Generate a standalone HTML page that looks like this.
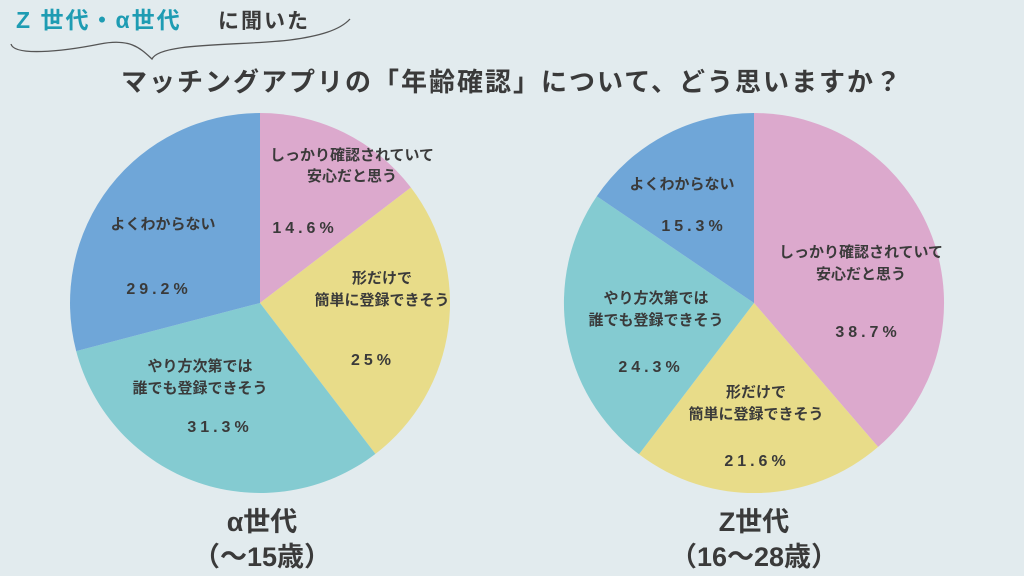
<!DOCTYPE html>
<html><head><meta charset="utf-8"><style>
html,body{margin:0;padding:0;background:#e2ebee;}
svg{display:block}
text{font-family:"Liberation Sans","Noto Sans CJK JP",sans-serif;font-weight:bold;fill:#3a3a3a}
</style></head><body>
<svg width="1024" height="576" viewBox="0 0 1024 576">
<rect width="1024" height="576" fill="#e2ebee"/>
<text x="16" y="28" font-size="23" letter-spacing="2" style="fill:#1e9cb3">Z 世代・α世代</text>
<text x="218" y="28" font-size="21" letter-spacing="2">に聞いた</text>
<path d="M11 44 C14 56 60 52 100 44 C130 38 140 48 152 59 C160 42 240 46 290 40 C320 36 340 30 350 19" fill="none" stroke="#555" stroke-width="1.3"/>
<text x="512" y="91" font-size="26" text-anchor="middle" letter-spacing="2">マッチングアプリの「年齢確認」について、どう思いますか？</text>
<path d="M260 303 L260 113 A190 190 0 0 1 410.9 187.5 Z" fill="#dca9cd"/>
<path d="M260 303 L410.9 187.5 A190 190 0 0 1 375.4 453.9 Z" fill="#e8dc89"/>
<path d="M260 303 L375.4 453.9 A190 190 0 0 1 76.2 351.1 Z" fill="#84cbd1"/>
<path d="M260 303 L76.2 351.1 A190 190 0 0 1 260 113 Z" fill="#6fa6d8"/>
<path d="M754 303 L754 113 A190 190 0 0 1 878.1 446.9 Z" fill="#dca9cd"/>
<path d="M754 303 L878.1 446.9 A190 190 0 0 1 639 454.3 Z" fill="#e8dc89"/>
<path d="M754 303 L639 454.3 A190 190 0 0 1 596.8 196.2 Z" fill="#84cbd1"/>
<path d="M754 303 L596.8 196.2 A190 190 0 0 1 754 113 Z" fill="#6fa6d8"/>
<g font-size="15" text-anchor="middle">
<text x="352" y="160">しっかり確認されていて</text>
<text x="352" y="181">安心だと思う</text>
<text x="382" y="283">形だけで</text>
<text x="382" y="305">簡単に登録できそう</text>
<text x="200" y="371">やり方次第では</text>
<text x="200" y="393">誰でも登録できそう</text>
<text x="163" y="229">よくわからない</text>
<text x="861" y="257">しっかり確認されていて</text>
<text x="861" y="279">安心だと思う</text>
<text x="756" y="397">形だけで</text>
<text x="756" y="419">簡単に登録できそう</text>
<text x="656" y="303">やり方次第では</text>
<text x="656" y="325">誰でも登録できそう</text>
<text x="682" y="189">よくわからない</text>
</g>
<g font-size="16" text-anchor="middle" letter-spacing="4" font-weight="normal">
<text x="305" y="233">14.6%</text>
<text x="373" y="365">25%</text>
<text x="220" y="432">31.3%</text>
<text x="159" y="294">29.2%</text>
<text x="868" y="337">38.7%</text>
<text x="757" y="466">21.6%</text>
<text x="651" y="372">24.3%</text>
<text x="694" y="231">15.3%</text>
</g>
<g font-size="27" text-anchor="middle">
<text x="262" y="531">α世代</text>
<text x="262" y="566">（〜15歳）</text>
<text x="754" y="531">Z世代</text>
<text x="754" y="566">（16〜28歳）</text>
</g>
</svg>
</body></html>
